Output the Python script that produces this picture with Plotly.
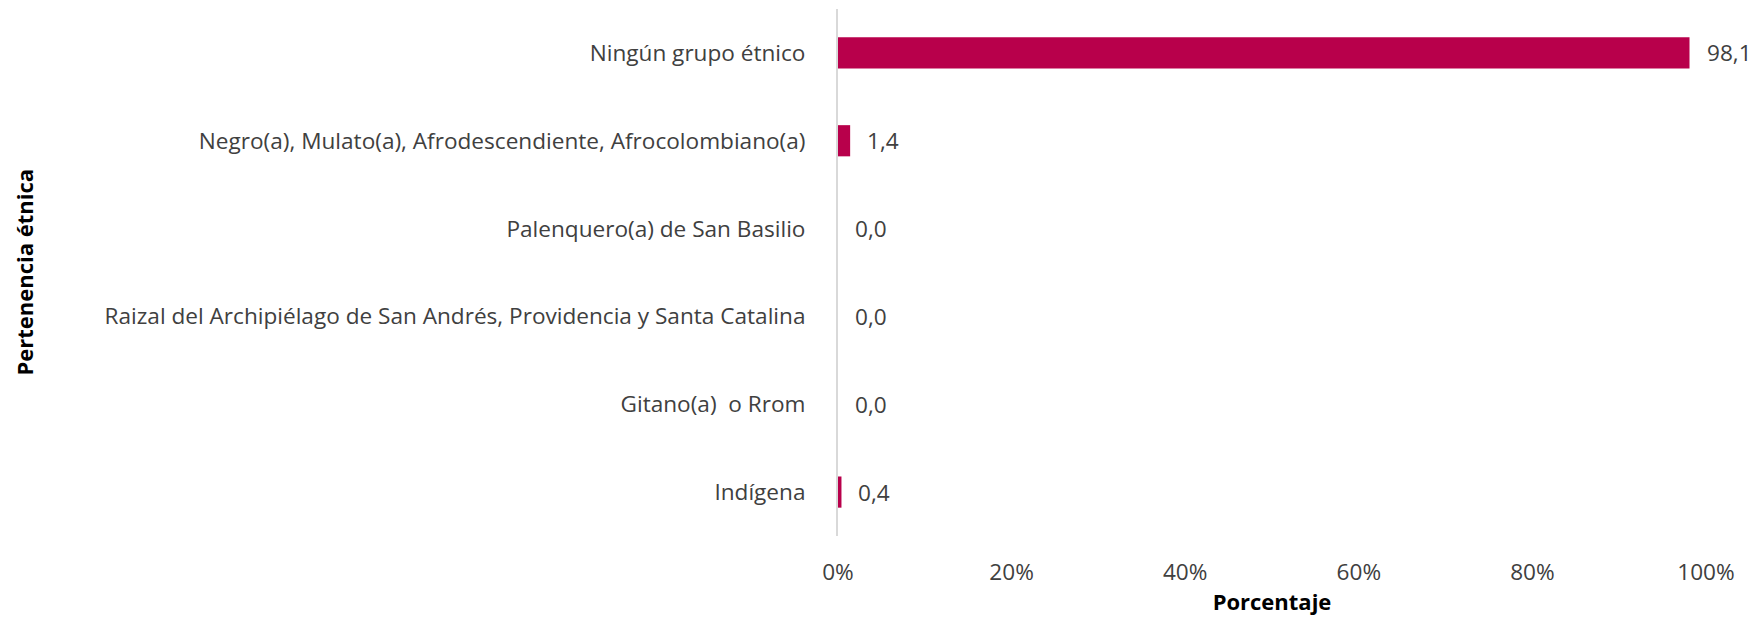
import plotly.graph_objects as go

categories = [
    "Ningún grupo étnico",
    "Negro(a), Mulato(a), Afrodescendiente, Afrocolombiano(a)",
    "Palenquero(a) de San Basilio",
    "Raizal del Archipiélago de San Andrés, Providencia y Santa Catalina",
    "Gitano(a)  o Rrom",
    "Indígena",
]
values = [98.1, 1.4, 0.0, 0.0, 0.0, 0.4]
x_ticks = [0, 20, 40, 60, 80, 100]
x_tick_labels = ["0%", "20%", "40%", "60%", "80%", "100%"]

labels = [f"{v:.1f}".replace(".", ",") for v in values]
FONT = "Open Sans"
GREY = "#404040"
FS = 22.6

fig = go.Figure(go.Bar(
    x=values, y=categories, orientation="h",
    marker=dict(color="#B8004B", line=dict(width=0)),
    cliponaxis=False, width=0.355, hoverinfo="x+y",
))
for cat, val, lab in zip(categories, values, labels):
    fig.add_annotation(
        x=val, y=cat, xref="x", yref="y", text=lab,
        xanchor="left", yanchor="middle", xshift=15, showarrow=False,
        font=dict(family=FONT, size=FS, color=GREY),
    )
fig.update_layout(
    width=1754, height=625,
    margin=dict(l=838, r=48, t=9, b=89),
    plot_bgcolor="white", paper_bgcolor="white",
    showlegend=False,
    font=dict(family=FONT, size=FS, color=GREY),
)
fig.update_xaxes(
    range=[0, 100], tickvals=x_ticks, ticktext=x_tick_labels,
    showgrid=False, zeroline=False, showline=False,
    ticks="", ticklabelstandoff=20,
    tickfont=dict(family=FONT, size=FS, color=GREY),
    title=dict(text="<b>Porcentaje</b>", font=dict(family=FONT, size=22, color="#000000"), standoff=9),
)
fig.update_yaxes(
    categoryorder="array", categoryarray=categories[::-1],
    showgrid=False, zeroline=False,
    showline=True, linecolor="#D9D9D9", linewidth=2,
    ticks="", ticklabelstandoff=26,
    tickfont=dict(family=FONT, size=FS, color=GREY),
)
fig.add_annotation(
    text="<b>Pertenencia étnica</b>", textangle=-90,
    xref="paper", yref="paper", x=(23 - 838) / 868, y=0.5,
    xanchor="center", yanchor="middle", showarrow=False,
    font=dict(family=FONT, size=22, color="#000000"),
)
fig.write_html(
    "out.html",
    config={"displayModeBar": False},
    post_script="document.body.style.margin='0px';document.body.style.overflow='hidden';",
)
